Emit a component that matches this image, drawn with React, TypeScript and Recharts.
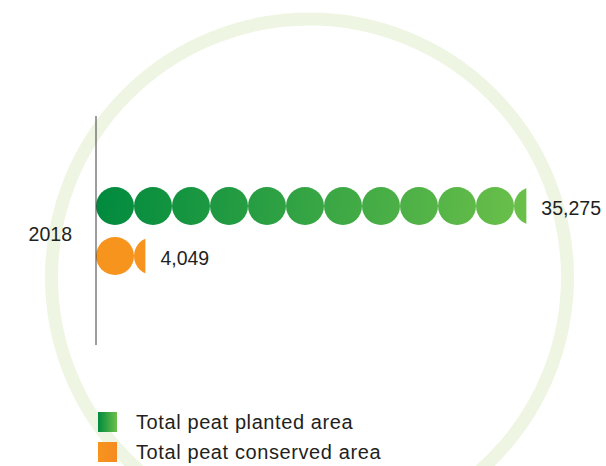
import React from 'react';
import {BarChart, Bar, XAxis, YAxis, LabelList, Legend} from 'recharts';

const years = ['2018'];
const plantedArea = [35275];
const conservedArea = [4049];
const seriesNames = ['Total peat planted area', 'Total peat conserved area'];

const data = years.map((year, i) => ({year, planted: plantedArea[i], conserved: conservedArea[i]}));

const FONT = '"Liberation Sans", Arial, Helvetica, sans-serif';
const TEXT = '#231f20';

// bar drawn as a row of circles, cut off at the bar's end
const DotBar = (props: any) => {
    const {x, y, width, height, dataKey, from, to} = props;
    if (!width || width <= 0) return null;
    const r = height / 2;
    const n = Math.ceil(width / height);
    const key = `${dataKey}-${Math.round(y)}`;
    return (
        <g>
            <defs>
                <clipPath id={`clip-${key}`}>
                    <rect x={x} y={y} width={width} height={height}/>
                </clipPath>
                <linearGradient id={`grad-${key}`} gradientUnits="userSpaceOnUse" x1={x} y1={y} x2={x + width} y2={y + height}>
                    <stop offset="0%" stopColor={from}/>
                    <stop offset="100%" stopColor={to}/>
                </linearGradient>
            </defs>
            <g clipPath={`url(#clip-${key})`}>
                {Array.from({length: n}, (_, i) => (
                    <circle key={i} cx={x + r + i * height} cy={y + r} r={r} fill={`url(#grad-${key})`}/>
                ))}
            </g>
        </g>
    );
};

const YearTick = (props: any) => {
    const {x, y, payload} = props;
    return (
        <text x={x} y={y + 10} textAnchor="end" fontSize={19.5} fill={TEXT} fontFamily={FONT}>
            {payload.value}
        </text>
    );
};

const swatches = [
    'linear-gradient(to right, #008a3e, #6cc04a)',
    'linear-gradient(to right, #f7941d, #f58a22)',
];

const LegendBox = () => (
    <div style={{fontFamily: FONT, fontSize: 20, letterSpacing: 0.6, color: TEXT}}>
        {seriesNames.map((name, i) => (
            <div key={name} style={{display: 'flex', alignItems: 'center', height: 30}}>
                <span style={{width: 19, height: 20, background: swatches[i], display: 'inline-block'}}/>
                <span style={{marginLeft: 19}}>{name}</span>
            </div>
        ))}
    </div>
);

const fmt = (v: any) => Number(v).toLocaleString('en-US');

export default function App() {
    return (
        <div style={{position: 'absolute', left: 0, top: 0, width: 606, height: 466, background: '#fff', overflow: 'hidden'}}>
            <svg width={606} height={466} style={{position: 'absolute', left: 0, top: 0}}>
                <circle cx={309.5} cy={277} r={258} fill="none" stroke="#eef6e3" strokeWidth={13}/>
            </svg>
            <div style={{position: 'absolute', left: 0, top: 0}}>
                <BarChart width={606} height={466} data={data} layout="vertical"
                          margin={{top: 116, right: 22, bottom: 121, left: 0}}
                          barSize={38} barGap={12}>
                    <XAxis type="number" hide domain={[0, 40000]}/>
                    <YAxis type="category" dataKey="year" width={96} tickLine={false} tickSize={0} tickMargin={24}
                           axisLine={{stroke: '#3a3a3a'}} tick={<YearTick/>}/>
                    <Legend layout="vertical" align="center" verticalAlign="middle"
                            wrapperStyle={{left: 98, top: 407, width: 360}} content={<LegendBox/>}/>
                    <Bar dataKey="planted" name={seriesNames[0]} isAnimationActive={false}
                         shape={(p: any) => <DotBar {...p} dataKey="planted" from="#008a3e" to="#6cc04a"/>}>
                        <LabelList dataKey="planted" position="right" offset={15} formatter={fmt} dy={2}
                                   style={{fontSize: 19.5, fill: TEXT, fontFamily: FONT}}/>
                    </Bar>
                    <Bar dataKey="conserved" name={seriesNames[1]} isAnimationActive={false}
                         shape={(p: any) => <DotBar {...p} dataKey="conserved" from="#f7941d" to="#f7941d"/>}>
                        <LabelList dataKey="conserved" position="right" offset={15} formatter={fmt} dy={2}
                                   style={{fontSize: 19.5, fill: TEXT, fontFamily: FONT}}/>
                    </Bar>
                </BarChart>
            </div>
        </div>
    );
}
